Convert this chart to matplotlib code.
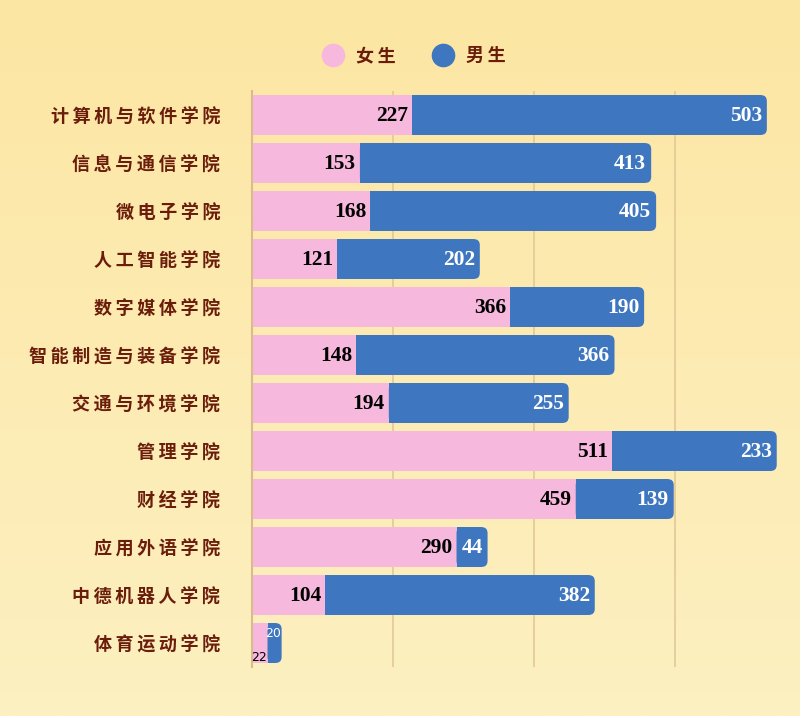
import numpy as np
import matplotlib.pyplot as plt
from matplotlib.lines import Line2D
from matplotlib.patches import FancyBboxPatch

# 数据
colleges = ["计算机与软件学院", "信息与通信学院", "微电子学院", "人工智能学院",
            "数字媒体学院", "智能制造与装备学院", "交通与环境学院", "管理学院",
            "财经学院", "应用外语学院", "中德机器人学院", "体育运动学院"]
female = [227, 153, 168, 121, 366, 148, 194, 511, 459, 290, 104, 22]
male = [503, 413, 405, 202, 190, 366, 255, 233, 139, 44, 382, 20]
series_names = ["女生", "男生"]

pink = "#f6b8dc"
blue = "#3e76bf"
brown = "#6b1d0c"
cjk = ["Noto Sans CJK SC", "DejaVu Sans"]

fig = plt.figure(figsize=(8, 7.16), dpi=100)

# 背景渐变
bg = fig.add_axes([0, 0, 1, 1])
grad = np.linspace(0, 1, 256).reshape(-1, 1)
c_top = np.array([252, 230, 163]) / 255
c_bot = np.array([253, 240, 193]) / 255
img = c_top + (c_bot - c_top) * grad[:, :, None]
bg.imshow(img, aspect="auto", extent=[0, 1, 0, 1])
bg.axis("off")

ax = fig.add_axes([0.315, 0.0684, 0.685, 0.8045])
ax.patch.set_alpha(0)
y = np.arange(len(colleges))
xmax = 777
ax.set_xlim(0, xmax)
ax.set_ylim(len(colleges) - 0.5, -0.5)

ax.barh(y, female, height=0.83, color=pink, zorder=2)
blue_bars = ax.barh(y, male, left=female, height=0.83, color=blue, zorder=2)

# 男生条右端圆角
px_x = xmax / (0.685 * 800)
px_y = len(colleges) / (0.8045 * 716)
r = 6 * px_x
for b in blue_bars:
    x0, y0, w, h = b.get_x(), b.get_y(), b.get_width(), b.get_height()
    b.set_width(max(w - r, 0))
    ax.add_patch(FancyBboxPatch((x0, y0), w, h,
                                boxstyle=f"round,pad=0,rounding_size={r}",
                                mutation_aspect=px_y / px_x,
                                facecolor=blue, edgecolor="none", zorder=2))

ax.set_xticks([200, 400, 600])
ax.set_xticklabels([])
ax.tick_params(length=0)
ax.grid(axis="x", color="#e2c897", linewidth=1.2, zorder=0)
for s in ["top", "right", "bottom"]:
    ax.spines[s].set_visible(False)
ax.spines["left"].set_color("#d9bb8c")
ax.spines["left"].set_linewidth(1.5)

ax.set_yticks(y)
ax.set_yticklabels(["\u2009".join(c) for c in colleges], family=cjk,
                   fontsize=13, fontweight="bold", color=brown)
ax.tick_params(axis="y", pad=23)

# 数值标签
for i, (f, m) in enumerate(zip(female, male)):
    if f + m < 60:
        ax.text(f - 0.5, i + 0.3, str(f), ha="right", va="center",
                fontsize=9, color="black", zorder=3)
        ax.text(f + m - 0.5, i - 0.2, str(m), ha="right", va="center",
                fontsize=9, color="white", zorder=3)
        continue
    ax.text(f - 6, i + 0.02, str(f), ha="right", va="center", family="Liberation Serif",
            fontsize=15.5, fontweight="bold", color="black", zorder=3)
    ax.text(f + m - 7, i + 0.02, str(m), ha="right", va="center", family="Liberation Serif",
            fontsize=15.5, fontweight="bold", color="white", zorder=3)

# 图例
handles = [Line2D([], [], marker="o", linestyle="none", markersize=16,
                  markerfacecolor=c, markeredgecolor=c) for c in (pink, blue)]
leg = fig.legend(handles, ["\u2009".join(n) for n in series_names], loc="center",
                 bbox_to_anchor=(0.513, 0.922), ncol=2, frameon=False,
                 handletextpad=0.3, columnspacing=1.6,
                 prop={"family": cjk, "size": 13, "weight": "bold"})
for t in leg.get_texts():
    t.set_color(brown)

fig.savefig("out.png", dpi=100)
